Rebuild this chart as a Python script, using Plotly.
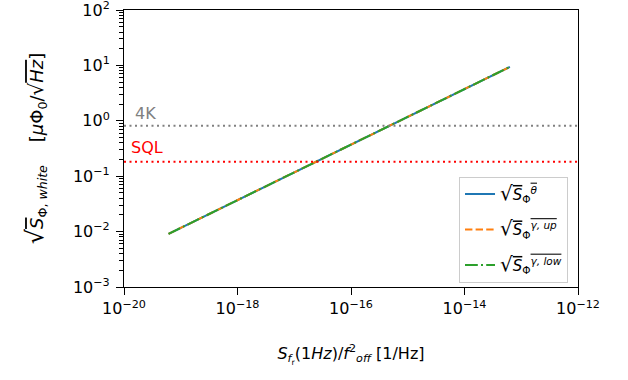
import plotly.graph_objects as go

# ---- data ----
x_vals = [6.1e-20, 1e-18, 1e-17, 1e-16, 1e-15, 6.3e-14]
y_theta = [0.0091, 0.0368, 0.116, 0.368, 1.16, 9.4]
y_gamma_up = [0.0091, 0.0368, 0.116, 0.368, 1.16, 9.4]
y_gamma_low = [0.0091, 0.0368, 0.116, 0.368, 1.16, 9.4]
level_4k = 0.81
level_sql = 0.183

x_ticks = [1e-20, 1e-18, 1e-16, 1e-14, 1e-12]
x_tick_text = ["10<sup>−20</sup>", "10<sup>−18</sup>", "10<sup>−16</sup>", "10<sup>−14</sup>", "10<sup>−12</sup>"]
y_ticks = [1e-3, 1e-2, 1e-1, 1e0, 1e1, 1e2]
y_tick_text = ["10<sup>−3</sup>", "10<sup>−2</sup>", "10<sup>−1</sup>", "10<sup>0</sup>", "10<sup>1</sup>", "10<sup>2</sup>"]

FONT = "DejaVu Sans"
OL = "<span style='text-decoration:overline'>"
RAD = "<span style='font-size:20px'>√</span>"


def sq_label(sup):
    return RAD + OL + "<i>S</i></span><sub>Φ</sub><sup>" + OL + "<i>" + sup + "</i></span></sup>"


fig = go.Figure()
fig.add_trace(go.Scatter(x=x_vals, y=y_theta, mode="lines", legendgroup="a",
                         line=dict(color="#1f77b4", width=2),
                         name=sq_label("θ")))
fig.add_trace(go.Scatter(x=x_vals, y=y_gamma_up, mode="lines", legendgroup="b",
                         line=dict(color="#ff7f0e", width=2, dash="7.4px,3.2px"),
                         name=sq_label("γ, up")))
fig.add_trace(go.Scatter(x=x_vals, y=y_gamma_low, mode="lines", legendgroup="c",
                         line=dict(color="#2ca02c", width=2, dash="12.8px,3.2px,2px,3.2px"),
                         name=sq_label("γ, low")))

fig.add_hline(y=level_4k, line=dict(color="#808080", width=2, dash="2px,3.5px"))
fig.add_hline(y=level_sql, line=dict(color="#ff0000", width=2, dash="2px,3.5px"))

fig.add_annotation(text="4K", xref="paper", yref="y", x=0.02, y=0.14,
                   xanchor="left", yanchor="middle", showarrow=False,
                   font=dict(family=FONT, size=16, color="#808080"))
fig.add_annotation(text="SQL", xref="paper", yref="y", x=0.011, y=-0.49,
                   xanchor="left", yanchor="middle", showarrow=False,
                   font=dict(family=FONT, size=16, color="#ff0000"))

y_minor = [m * 10 ** e for e in range(-3, 2) for m in range(2, 10)]

fig.update_layout(
    width=628, height=380,
    margin=dict(l=124, r=50, t=10, b=93, autoexpand=False),
    paper_bgcolor="white", plot_bgcolor="white",
    font=dict(family=FONT, size=16, color="black"),
    showlegend=True,
    legend=dict(x=0.978, y=0.015, xanchor="right", yanchor="bottom",
                bordercolor="#cccccc", borderwidth=1, bgcolor="rgba(255,255,255,0.8)",
                font=dict(family=FONT, size=15), tracegroupgap=13),
    xaxis=dict(type="log", range=[-20, -12], tickvals=x_ticks, ticktext=x_tick_text,
               showgrid=False, zeroline=False, showline=True, linecolor="black",
               linewidth=1.1, mirror=True, ticks="outside", ticklen=7, tickwidth=1.3,
               tickcolor="black", tickfont=dict(size=16), ticklabeloverflow="allow",
               automargin=False,
               title=dict(text="<i>S</i><sub><i>f</i><sub>r</sub></sub>(1<i>Hz</i>)/<i>f</i><sup>2</sup><sub><i>off</i></sub> [1/Hz]",
                          font=dict(family=FONT, size=16), standoff=30)),
    yaxis=dict(type="log", range=[-3, 2], tickvals=y_ticks, ticktext=y_tick_text,
               showgrid=False, zeroline=False, showline=True, linecolor="black",
               linewidth=1.1, mirror=True, ticks="outside", ticklen=7, tickwidth=1.3,
               tickcolor="black", tickfont=dict(size=16), ticklabelstandoff=3,
               ticklabeloverflow="allow", automargin=False,
               minor=dict(ticks="outside", ticklen=4, tickwidth=0.9, tickcolor="black",
                          tickvals=y_minor, showgrid=False),
               title=dict(text="<span style='font-size:24px'>√</span>" + OL + "<i>S</i></span><sub>Φ, <i>white</i></sub>    [<i>μ</i>Φ<sub>0</sub>/<span style='font-size:20px'>√</span>" + OL + "<i>Hz</i></span>]",
                          font=dict(family=FONT, size=18), standoff=24)),
)

fig.write_html("out.html")
